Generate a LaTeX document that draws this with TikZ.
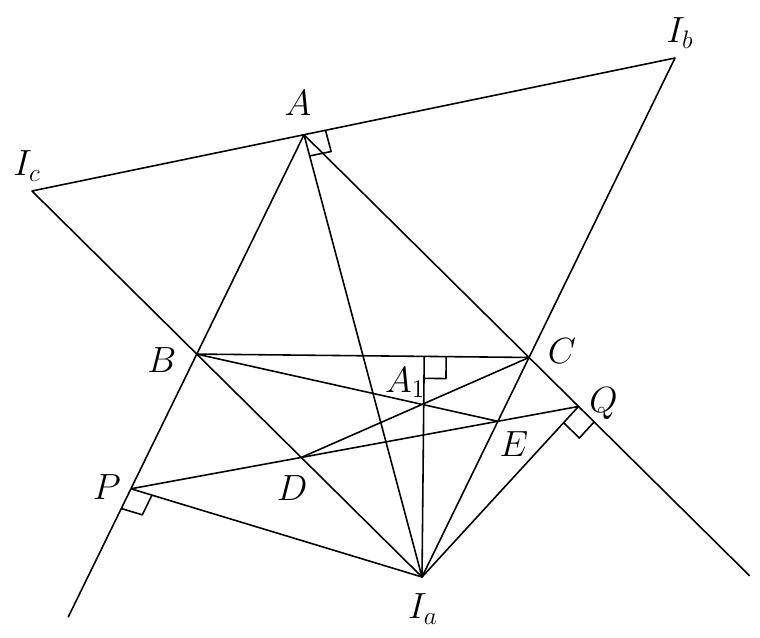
\documentclass[tikz,border=0pt]{standalone}
\usetikzlibrary{calc}

\newcommand{\rsz}{12.5pt}
% right angle mark at #1 between the directions to #2 and #3
\newcommand{\perpmark}[3]{\draw ($(#1)!\rsz!(#2)$) -- ($($(#1)!\rsz!(#2)$)+($(#1)!\rsz!(#3)$)-(#1)$) -- ($(#1)!\rsz!(#3)$);}
\tikzset{lbl/.style={font=\fontsize{21}{25}\selectfont,inner sep=0pt}}

\begin{document}
\begin{tikzpicture}[x=0.02cm,y=-0.02cm,line width=0.9pt,line join=round]
\useasboundingbox (0,0) rectangle (760,638);
% excentres
\coordinate (Ia) at (422,577);
\coordinate (Ib) at (675,58);
\coordinate (Ic) at (32,191);
% triangle ABC on the sides of IaIbIc
\coordinate (A) at ($(Ic)!0.423!(Ib)$);
\coordinate (B) at ($(Ic)!0.4225!(Ia)$);
\coordinate (C) at ($(Ib)!0.577!(Ia)$);
\coordinate (P) at ($(A)!1.614!(B)$);
\coordinate (Q) at ($(A)!1.22!(C)$);
\coordinate (Pend) at ($(A)!2.2!(B)$);
\coordinate (Qend) at ($(A)!1.98!(C)$);
\coordinate (D) at (intersection of P--Q and Ic--Ia);
\coordinate (E) at (intersection of P--Q and Ib--Ia);
\coordinate (F) at ($(B)!(Ia)!(C)$);
\coordinate (A1) at (intersection of B--E and C--D);

\draw (Ic) -- (Ib) -- (Ia) -- cycle;
\draw (A) -- (Pend) (A) -- (Qend) (B) -- (C);
\draw (A) -- (Ia) (F) -- (Ia) (P) -- (Ia) -- (Q) (P) -- (Q);
\draw (B) -- (E) (C) -- (D);

\perpmark{A}{Ib}{Ia}
\perpmark{P}{Pend}{Ia}
\perpmark{Q}{Qend}{Ia}
\perpmark{F}{C}{Ia}

\node[lbl] (lA) at ($(A)+(-6,-32)$) {$A$};
\node[lbl] (lIb) at ($(Ib)+(5,-25)$) {$I_b$};
\node[lbl] (lIc) at ($(Ic)+(-5,-25)$) {$I_c$};
\node[lbl] (lB) at ($(B)+(-35,6)$) {$B$};
\node[lbl] (lC) at ($(C)+(33,-6)$) {$C$};
\node[lbl] (lA1) at ($(A1)+(-17,-22)$) {$A_1$};
\node[lbl] (lQ) at ($(Q)+(25,-3)$) {$Q$};
\node[lbl] (lE) at ($(E)+(16,23)$) {$E$};
\node[lbl] (lP) at ($(P)+(-24,-2)$) {$P$};
\node[lbl] (lD) at ($(D)+(-9,31)$) {$D$};
\node[lbl] (lIa) at ($(Ia)+(1,32)$) {$I_a$};
\end{tikzpicture}
\end{document}
